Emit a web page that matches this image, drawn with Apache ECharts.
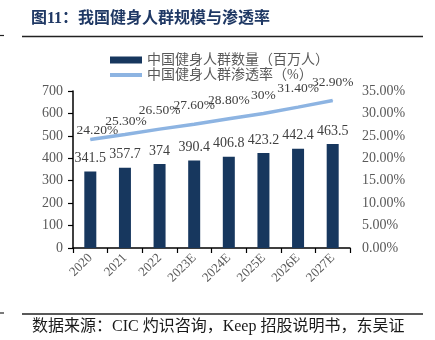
<!DOCTYPE html>
<html><head><meta charset="utf-8">
<script src="https://cdn.jsdelivr.net/npm/echarts@6/dist/echarts.min.js"></script>
<style>html,body{margin:0;padding:0;background:#fff}#c{width:435px;height:340px}</style>
</head><body><div id="c"></div>
<script>
const categories = ['2020','2021','2022','2023E','2024E','2025E','2026E','2027E'];
const peopleMillion = [341.5, 357.7, 374, 390.4, 406.8, 423.2, 442.4, 463.5];
const penetrationPct = [24.2, 25.3, 26.5, 27.6, 28.8, 30, 31.4, 32.9];
const seriesNames = ['中国健身人群数量（百万人）', '中国健身人群渗透率（%）'];
const titleText = '图11：我国健身人群规模与渗透率';
const sourceText = '数据来源：CIC 灼识咨询，Keep 招股说明书，东吴证';

const serif = '"Liberation Serif", "Noto Sans CJK SC", serif';
const chart = echarts.init(document.getElementById('c'), null, {renderer:'canvas'});
const pctFmt = v => (Number.isInteger(v) ? v : v.toFixed(2)) + '%';
// label nudges for the first two line labels (as placed in the source chart)
const lineLabelNudge = {0: [7, 9], 1: [1, 5]};
chart.setOption({
  animation: false,
  backgroundColor: '#fff',
  title: {
    text: titleText, left: 31, top: 11, padding: 0,
    textStyle: {fontSize: 16, fontWeight: 'bold', color: '#1F3864', fontFamily: serif}
  },
  legend: {
    orient: 'vertical', left: 110, top: 53, padding: 0, itemWidth: 32, itemHeight: 7, itemGap: 1,
    textStyle: {fontSize: 14, color: '#595959', fontFamily: serif},
    data: [
      {name: seriesNames[0], icon: 'rect'},
      {name: seriesNames[1], icon: 'path://M0,0 L64,0 L64,8 L0,8 Z'}
    ]
  },
  grid: {left: 73, right: 85, top: 91, bottom: 92, containLabel: false},
  xAxis: {
    type: 'category', data: categories, boundaryGap: true,
    axisLine: {lineStyle: {color: '#000', width: 1.5}},
    axisTick: {show: true, length: 5, lineStyle: {color: '#000', width: 1.2}},
    axisLabel: {rotate: 45, margin: 8, fontSize: 13, color: '#595959', fontFamily: serif, interval: 0}
  },
  yAxis: [
    {type: 'value', min: 0, max: 700, interval: 100,
     axisLine: {show: true, lineStyle: {color: '#000', width: 1.5}},
     axisTick: {show: true, length: 5, lineStyle: {color: '#000', width: 1.2}},
     splitLine: {show: false},
     axisLabel: {fontSize: 14, color: '#595959', fontFamily: serif, margin: 10}},
    {type: 'value', min: 0, max: 35, interval: 5,
     axisLine: {show: false}, axisTick: {show: false}, splitLine: {show: false},
     axisLabel: {fontSize: 14, color: '#595959', fontFamily: serif, margin: 12,
                 formatter: v => v.toFixed(2) + '%'}}
  ],
  series: [
    {name: seriesNames[0], type: 'bar', data: peopleMillion, barWidth: 12,
     itemStyle: {color: '#17375E'},
     label: {show: true, position: 'top', distance: 6, fontSize: 14, color: '#404040', fontFamily: serif}},
    {name: seriesNames[1], type: 'line', yAxisIndex: 1, data: penetrationPct,
     symbol: 'circle', symbolSize: 1, showSymbol: true,
     lineStyle: {color: '#8DB4E2', width: 3.5}, itemStyle: {color: '#8DB4E2'},
     labelLayout: function (p) {
       const n = lineLabelNudge[p.dataIndex];
       return n ? {dx: n[0], dy: n[1], hideOverlap: false} : {hideOverlap: false};
     },
     label: {show: true, position: 'top', distance: 11, fontSize: 13.5, color: '#404040', fontFamily: serif,
             formatter: p => pctFmt(p.value)}}
  ],
  graphic: [
    {type: 'line', shape: {x1: 22, y1: 36.5, x2: 423, y2: 36.5}, style: {stroke: '#222', lineWidth: 1.5}},
    {type: 'line', shape: {x1: 0, y1: 35.5, x2: 4, y2: 35.5}, style: {stroke: '#222', lineWidth: 1.2}},
    {type: 'line', shape: {x1: 22, y1: 314, x2: 423, y2: 314}, style: {stroke: '#222', lineWidth: 1.5}},
    {type: 'line', shape: {x1: 0, y1: 313, x2: 4, y2: 313}, style: {stroke: '#222', lineWidth: 1.2}},
    {type: 'text', left: 32, top: 319,
     style: {text: sourceText, fontSize: 16, fill: '#1a1a1a', fontFamily: serif}}
  ]
});
</script></body></html>
